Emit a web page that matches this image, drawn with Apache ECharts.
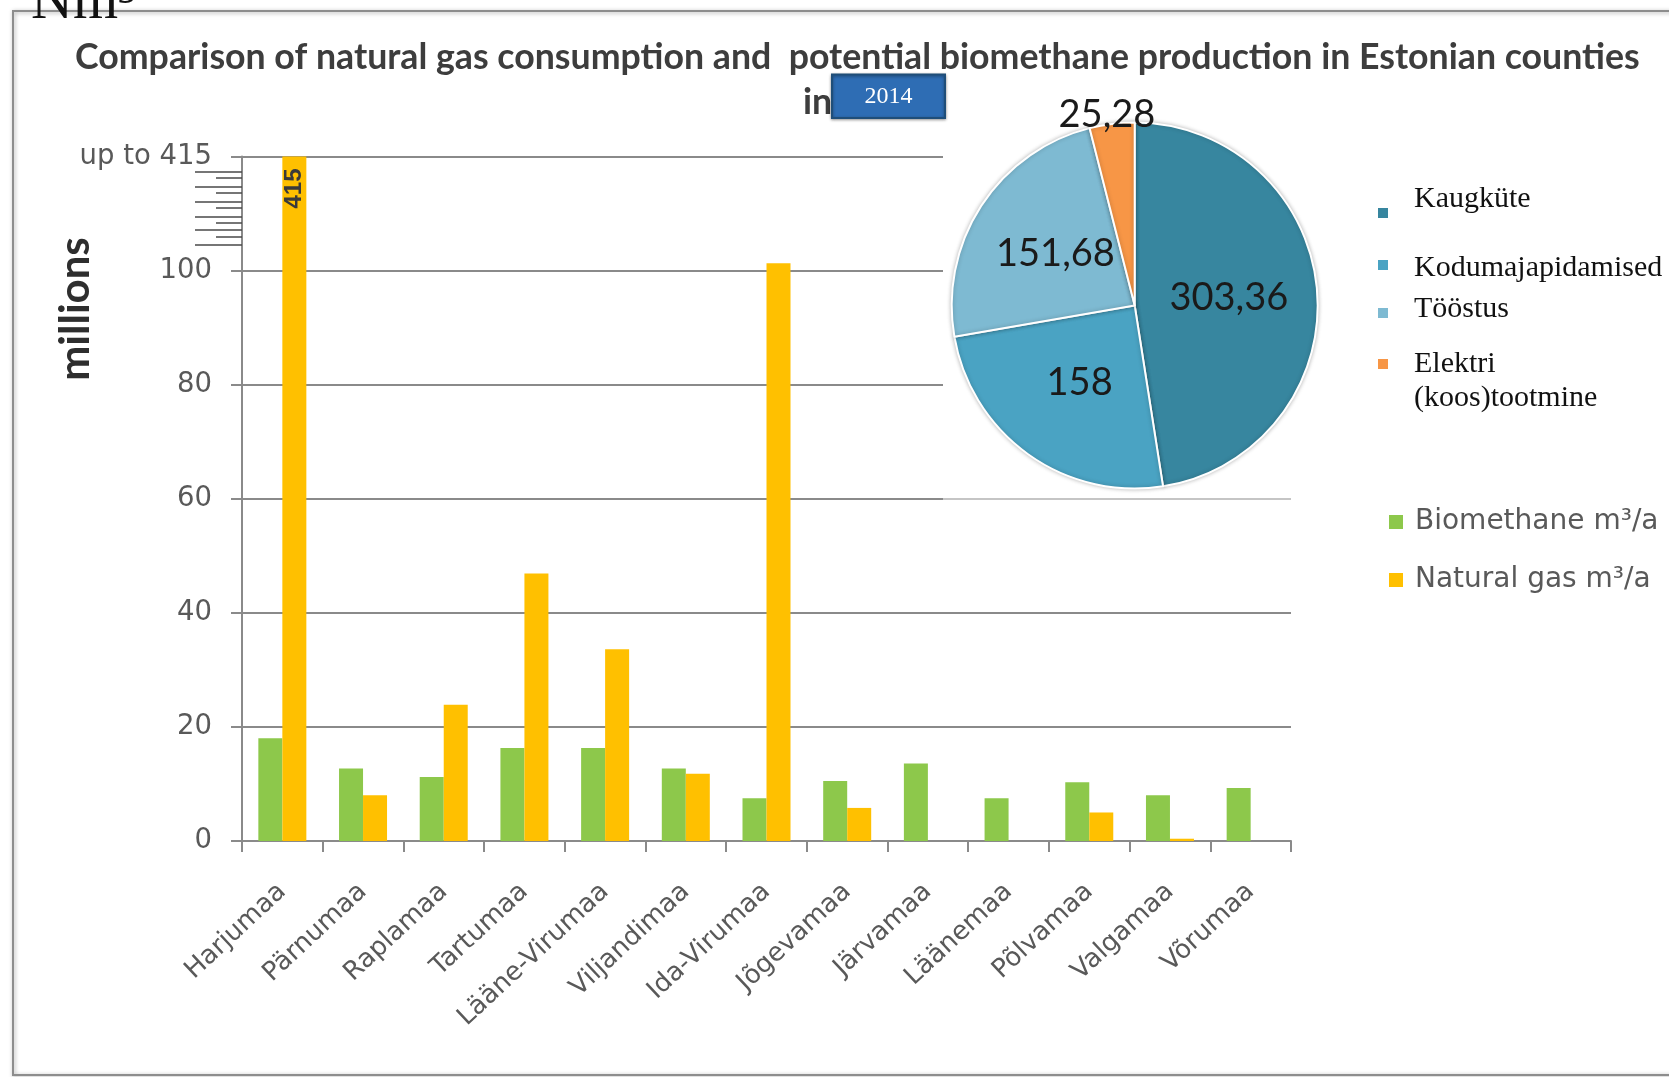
<!DOCTYPE html>
<html><head><meta charset="utf-8">
<script src="https://cdn.jsdelivr.net/npm/echarts@6/dist/echarts.min.js"></script>
<style>html,body{margin:0;padding:0;background:#fff;overflow:hidden}#c{width:1669px;height:1077px}</style>
</head><body><div id="c"></div>
<script>
// ---- data ----
const counties = ['Harjumaa','Pärnumaa','Raplamaa','Tartumaa','Lääne-Virumaa','Viljandimaa','Ida-Virumaa','Jõgevamaa','Järvamaa','Läänemaa','Põlvamaa','Valgamaa','Võrumaa'];
const biomethane = [18.0, 12.7, 11.2, 16.3, 16.3, 12.7, 7.5, 10.5, 13.6, 7.5, 10.3, 8.0, 9.3];
const naturalGas = [415, 8.0, 23.9, 46.9, 33.6, 11.8, 101.3, 5.8, 0, 0, 5.0, 0.4, 0];
const axisCap = 120;            // visible top of the value axis
const capLabel = 'up to 415';   // label written at the axis top
const breakTicksLong = [117.4, 114.7, 112.1, 109.5, 107.2, 104.6];
const breakTicksShort = [116.3, 113.7, 111.1, 108.4, 106.0];
const seriesNames = ['Biomethane m³/a', 'Natural gas m³/a'];
const pieNames = ['Kaugküte', 'Kodumajapidamised', 'Tööstus', 'Elektri (koos)tootmine'];
const pieValues = [303.36, 158, 151.68, 25.28];
const titleText = 'Comparison of natural gas consumption and  potential biomethane production in Estonian counties';
const yearText = '2014';

// ---- styles ----
const pieColors = ['#37869F', '#4AA3C3', '#7EBAD2', '#F79646'];
const axisGray = '#8a8a8a';
const labelGray = '#595959';

const chart = echarts.init(document.getElementById('c'), null, {renderer: 'canvas'});

const gasData = naturalGas.map(v => v > axisCap ? {
  value: v,
  label: {show: true, position: 'insideTop', rotate: 90, align: 'right', verticalAlign: 'middle',
          distance: 12, formatter: '{c}', fontFamily: 'Liberation Sans Narrow, Liberation Sans', fontWeight: 'bold',
          fontSize: 24, color: '#3a3a3a'}
} : v);

// legend spacing tweaks (top / bottom spacer heights per pie legend item)
const pieLegendTops = [182, 245, 292, 313];
const spTop = [0, 6, 0, 34];
const spBottom = [28, 0, 8, 0];
const legendRich = {};
[6, 8, 28, 34].forEach(h => { legendRich['sp' + h] = {height: h, lineHeight: h, fontSize: 2}; });

const legends = [{
  data: seriesNames, orient: 'vertical', left: 1389, top: 506, padding: 0,
  itemWidth: 14, itemHeight: 14, itemGap: 26, icon: 'rect',
  textStyle: {fontFamily: 'DejaVu Sans', fontSize: 28, color: labelGray, lineHeight: 32, padding: [0, 0, 0, 7]}
}];
pieNames.forEach((n, i) => legends.push({
  data: [n], orient: 'vertical', left: 1376, top: pieLegendTops[i], padding: 0,
  itemWidth: 12, itemHeight: 12, icon: 'rect',
  formatter: s => (spTop[i] ? '{sp' + spTop[i] + '| }\n' : '') + s.replace(' ', '\n') +
                  (spBottom[i] ? '\n{sp' + spBottom[i] + '| }' : ''),
  textStyle: {fontFamily: 'Liberation Serif', fontSize: 30, color: '#111', lineHeight: 34,
              padding: [0, 0, 0, 20], rich: legendRich}
}));

const extraAxis = (vals, len) => ({
  type: 'value', min: 0, max: axisCap, interval: 20, position: 'left',
  axisLine: {show: false}, splitLine: {show: false}, axisLabel: {show: false},
  axisTick: {show: true, customValues: vals, length: len, lineStyle: {color: '#4a4a4a', width: 1.5}}
});

const option = {
  backgroundColor: '#fff',
  animation: false,
  title: [
    {text: titleText, left: 70, top: 34,
     textStyle: {fontFamily: 'Lato', fontWeight: 'bold', fontSize: 35.7, color: '#3d3d3d'}},
    {text: 'in', left: 798, top: 79,
     textStyle: {fontFamily: 'Lato', fontWeight: 'bold', fontSize: 35.7, color: '#3d3d3d'}},
    {text: 'Nm³', left: 26, top: -31,
     textStyle: {fontFamily: 'Liberation Serif', fontWeight: 'normal', fontSize: 58, color: '#111'}}
  ],
  legend: legends,
  grid: {left: 242, right: 378, top: 156.5, bottom: 236, containLabel: false, outerBoundsMode: 'none'},
  xAxis: {
    type: 'category', data: counties,
    axisLine: {lineStyle: {color: axisGray, width: 2}},
    axisTick: {show: true, length: 11, lineStyle: {color: axisGray, width: 2}},
    axisLabel: {rotate: 43, margin: 47, interval: 0, fontFamily: 'DejaVu Sans', fontSize: 26, color: labelGray}
  },
  yAxis: [{
    type: 'value', min: 0, max: axisCap, interval: 20,
    axisLine: {show: true, lineStyle: {color: axisGray, width: 2}},
    axisTick: {show: true, length: 11, lineStyle: {color: axisGray, width: 2}},
    splitLine: {lineStyle: {color: axisGray, width: 2}},
    axisLabel: {margin: 30, fontFamily: 'DejaVu Sans', fontSize: 27.5, color: labelGray,
      formatter: v => v === axisCap ? capLabel : String(v)}
  }, extraAxis(breakTicksLong, 47), extraAxis(breakTicksShort, 26)],
  graphic: [
    {type: 'rect', z: 1, silent: true, shape: {x: 13, y: 11, width: 1700, height: 1064},
     style: {fill: 'none', stroke: '#8d8d8d', lineWidth: 2, shadowBlur: 4, shadowColor: 'rgba(0,0,0,0.35)', shadowOffsetX: 1, shadowOffsetY: 1}},
    {type: 'rect', z: 1, silent: true, shape: {x: 943, y: 91, width: 352, height: 405},
     style: {fill: '#fff'}},
    {type: 'rect', z: 1, silent: true, shape: {x: 943, y: 496, width: 352, height: 6},
     style: {fill: 'rgba(255,255,255,0.5)'}},
    {type: 'rect', z: 10, silent: true, shape: {x: 832, y: 74.5, width: 113, height: 43.5},
     style: {fill: '#2E6DB4', stroke: '#1F4E79', lineWidth: 2, shadowBlur: 3, shadowColor: 'rgba(0,0,0,0.4)', shadowOffsetY: 1}},
    {type: 'text', z: 11, silent: true, x: 888.5, y: 97,
     style: {text: yearText, fill: '#fff', font: '24px "Liberation Serif"', align: 'center', verticalAlign: 'middle'}},
    {type: 'text', z: 5, silent: true, x: 75, y: 309, rotation: Math.PI / 2,
     style: {text: 'millions', fill: '#2e2e2e', font: 'bold 42px Lato', align: 'center', verticalAlign: 'middle'}}
  ],
  series: [
    {name: seriesNames[0], type: 'bar', data: biomethane, barWidth: 24, barGap: '0%', clip: true,
     itemStyle: {color: '#8DC84B'}, z: 2},
    {name: seriesNames[1], type: 'bar', data: gasData, barWidth: 24, barGap: '0%', clip: true,
     itemStyle: {color: '#FFC000'}, z: 2},
    {name: 'pie', type: 'pie', z: 5, center: [1134.7, 305.5], radius: 183, startAngle: 90, clockwise: true,
     legendHoverLink: false, avoidLabelOverlap: false,
     data: pieNames.map((n, i) => ({name: n, value: pieValues[i], itemStyle: {color: pieColors[i]}})),
     itemStyle: {borderColor: '#fff', borderWidth: 2, shadowBlur: 4, shadowColor: 'rgba(0,0,0,0.25)'},
     label: {show: true, position: 'inside', fontFamily: 'Lato', fontSize: 38, color: '#1a1a1a',
       formatter: p => String(p.value).replace('.', ',')},
     // the smallest slice has its label lifted above the pie
     labelLayout: p => p.dataIndex === 3 ? {dx: -16, dy: -97} : {},
     labelLine: {show: false}
    }
  ]
};
chart.setOption(option);
</script></body></html>
